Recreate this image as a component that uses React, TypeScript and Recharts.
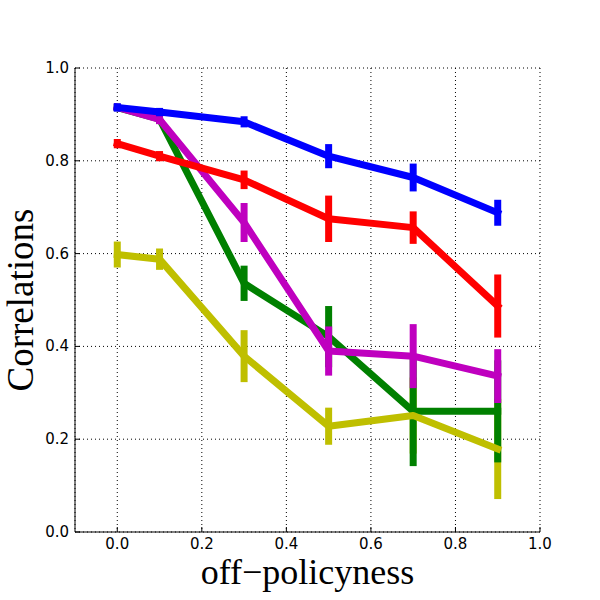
import React from 'react';
import { LineChart, Line, XAxis, YAxis, CartesianGrid, ErrorBar, Label } from 'recharts';

const xValues = [0.0, 0.1, 0.3, 0.5, 0.7, 0.9];
const xTicks = [0.0, 0.2, 0.4, 0.6, 0.8, 1.0];
const yTicks = [0.0, 0.2, 0.4, 0.6, 0.8, 1.0];

const blueValues = [0.915, 0.905, 0.884, 0.81, 0.764, 0.688];
const blueErrors = [0.009, 0.009, 0.012, 0.026, 0.03, 0.028];
const redValues = [0.837, 0.81, 0.759, 0.675, 0.656, 0.487];
const redErrors = [0.01, 0.011, 0.02, 0.05, 0.035, 0.068];
const greenValues = [0.915, 0.89, 0.536, 0.421, 0.26, 0.26];
const greenErrors = [0.008, 0.01, 0.038, 0.066, 0.118, 0.11];
const magentaValues = [0.915, 0.889, 0.667, 0.39, 0.379, 0.336];
const magentaErrors = [0.008, 0.01, 0.042, 0.053, 0.069, 0.058];
const yellowValues = [0.598, 0.588, 0.379, 0.228, 0.251, 0.179];
const yellowErrors = [0.028, 0.023, 0.056, 0.04, 0.082, 0.108];

const data = xValues.map((x, i) => ({
  x,
  blue: blueValues[i],
  blueErr: blueErrors[i],
  red: redValues[i],
  redErr: redErrors[i],
  green: greenValues[i],
  greenErr: greenErrors[i],
  magenta: magentaValues[i],
  magentaErr: magentaErrors[i],
  yellow: yellowValues[i],
  yellowErr: yellowErrors[i],
}));

const BLUE = '#0000ff';
const RED = '#ff0000';
const GREEN = '#008000';
const MAGENTA = '#bf00bf';
const YELLOW = '#bfbf00';

const LW = 7;
const fmt = (v: number) => v.toFixed(1);

const makeTick = (anchor: 'middle' | 'end', dy: number) => (props: any) => (
  <text
    x={props.x}
    y={props.y}
    dy={dy}
    textAnchor={anchor}
    fontFamily="DejaVu Sans"
    fontSize={15}
    fill="#000"
  >
    {fmt(Number(props.payload.value))}
  </text>
);

const lineProps = {
  type: 'linear' as const,
  dot: false,
  activeDot: false,
  isAnimationActive: false,
  strokeWidth: LW,
  strokeLinejoin: 'round' as const,
  strokeLinecap: 'square' as const,
};

const errProps = (color: string) => ({
  direction: 'y' as const,
  width: 0,
  stroke: color,
  strokeWidth: LW,
  isAnimationActive: false,
});

export default function App() {
  return (
    <div style={{ position: 'absolute', left: 0, top: 0, width: 600, height: 600, background: '#fff' }}>
      <LineChart width={600} height={600} data={data} margin={{ top: 68, right: 60, bottom: 0, left: 0 }}>
        <CartesianGrid stroke="#000" strokeDasharray="1 3" strokeWidth={1} />
        <XAxis
          dataKey="x"
          type="number"
          domain={[-0.1, 1.0]}
          ticks={xTicks}
          allowDataOverflow
          height={68}
          tick={makeTick('middle', 10)}
          tickSize={-5}
          tickMargin={12}
          axisLine={{ stroke: '#000', strokeWidth: 1 }}
          tickLine={{ stroke: '#000', strokeWidth: 1 }}
        >
          <Label
            content={() => (
              <text x={307.5} y={584} textAnchor="middle" fontFamily="Liberation Serif" fontSize={36} fill="#000">
                off−policyness
              </text>
            )}
          />
        </XAxis>
        <XAxis
          xAxisId="top"
          orientation="top"
          type="number"
          domain={[-0.1, 1.0]}
          ticks={xTicks}
          allowDataOverflow
          height={0}
          tick={false}
          tickSize={-5}
          axisLine={{ stroke: '#000', strokeWidth: 1 }}
          tickLine={{ stroke: '#000', strokeWidth: 1 }}
        />
        <YAxis
          type="number"
          domain={[0, 1]}
          ticks={yTicks}
          allowDataOverflow
          width={75}
          tick={makeTick('end', 5)}
          tickSize={-5}
          tickMargin={11}
          axisLine={{ stroke: '#000', strokeWidth: 1 }}
          tickLine={{ stroke: '#000', strokeWidth: 1 }}
        >
          <Label
            content={() => (
              <text
                x={33}
                y={300}
                transform="rotate(-90 33 300)"
                textAnchor="middle"
                fontFamily="Liberation Serif"
                fontSize={37}
                fill="#000"
              >
                Correlations
              </text>
            )}
          />
        </YAxis>
        <YAxis
          yAxisId="right"
          orientation="right"
          type="number"
          domain={[0, 1]}
          ticks={yTicks}
          allowDataOverflow
          width={0}
          tick={false}
          tickSize={-5}
          axisLine={{ stroke: '#000', strokeWidth: 1 }}
          tickLine={{ stroke: '#000', strokeWidth: 1 }}
        />

        <Line {...lineProps} dataKey="yellow" stroke="none" strokeWidth={0}>
          <ErrorBar dataKey="yellowErr" {...errProps(YELLOW)} />
        </Line>
        <Line {...lineProps} dataKey="green" stroke={GREEN}>
          <ErrorBar dataKey="greenErr" {...errProps(GREEN)} />
        </Line>
        <Line {...lineProps} dataKey="yellow" stroke={YELLOW} />
        <Line {...lineProps} dataKey="magenta" stroke={MAGENTA}>
          <ErrorBar dataKey="magentaErr" {...errProps(MAGENTA)} />
        </Line>
        <Line {...lineProps} dataKey="red" stroke={RED}>
          <ErrorBar dataKey="redErr" {...errProps(RED)} />
        </Line>
        <Line {...lineProps} dataKey="blue" stroke={BLUE}>
          <ErrorBar dataKey="blueErr" {...errProps(BLUE)} />
        </Line>
      </LineChart>
    </div>
  );
}
